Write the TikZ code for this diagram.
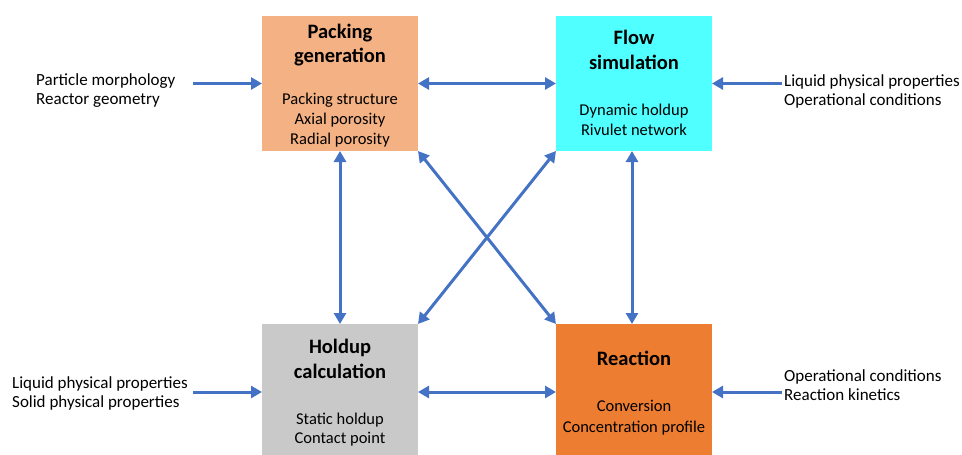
\documentclass[tikz,border=0pt]{standalone}
\usepackage{fontspec}
\setmainfont{Carlito}
\usetikzlibrary{arrows.meta}
\definecolor{packc}{HTML}{F4B183}
\definecolor{flowc}{HTML}{50FFFF}
\definecolor{holdc}{HTML}{C9C9C9}
\definecolor{reacc}{HTML}{ED7D31}
\definecolor{arrc}{HTML}{4472C4}
\begin{document}
\begin{tikzpicture}[x=1pt,y=-1pt,
  box/.style={rectangle, draw=none, minimum width=156pt, inner sep=0pt, outer sep=0pt},
  ttl/.style={font=\fontsize{20.5}{25}\selectfont\bfseries, anchor=base, inner sep=0pt},
  itm/.style={font=\fontsize{16.5}{20}\selectfont, anchor=base, inner sep=0pt},
  side/.style={font=\fontsize{17}{19}\selectfont, anchor=base west, inner sep=0pt, align=left},
  tip/.style={Triangle[length=11pt,width=12pt]},
  arr/.style={draw=arrc, line width=3pt, -{Triangle[length=11pt,width=12pt]}},
  darr/.style={draw=arrc, line width=3pt, {Triangle[length=11pt,width=12pt]}-{Triangle[length=11pt,width=12pt]}}]
\useasboundingbox (0,0) rectangle (962,455);
% boxes
\node[box, fill=packc, minimum height=135pt] (pack) at (340,83.5) {};
\node[box, fill=flowc, minimum height=135pt] (flow) at (634,83.5) {};
\node[box, fill=holdc, minimum height=136pt] (hold) at (340,392) {};
\node[box, fill=reacc, minimum height=136pt] (reac) at (634,392) {};
% box texts
\node[ttl] (packt1) at (340,38) {Packing};
\node[ttl] (packt2) at (340,62) {generation};
\node[itm] (packi1) at (340,104) {Packing structure};
\node[itm] (packi2) at (340,124) {Axial porosity};
\node[itm] (packi3) at (340,144) {Radial porosity};
\node[ttl] (flowt1) at (634,44) {Flow};
\node[ttl] (flowt2) at (634,69) {simulation};
\node[itm] (flowi1) at (634,115) {Dynamic holdup};
\node[itm] (flowi2) at (634,135) {Rivulet network};
\node[ttl] (holdt1) at (340,353) {Holdup};
\node[ttl] (holdt2) at (340,378) {calculation};
\node[itm] (holdi1) at (340,424) {Static holdup};
\node[itm] (holdi2) at (340,443) {Contact point};
\node[ttl] (react1) at (634,365) {Reaction};
\node[itm] (reaci1) at (634,411) {Conversion};
\node[itm] (reaci2) at (634,432) {Concentration profile};
% side labels (anchor is the baseline of the last line)
\node[side] (lt) at (36,104) {Particle morphology\\Reactor geometry};
\node[side] (rt) at (784,105) {Liquid physical properties\\Operational conditions};
\node[side] (lb) at (12,407) {Liquid physical properties\\Solid physical properties};
\node[side] (rb) at (784,400) {Operational conditions\\Reaction kinetics};
% free ends
\coordinate (ltin) at (193,83.5);
\coordinate (rtin) at (782,83.5);
\coordinate (lbin) at (193,392);
\coordinate (rbin) at (782,392);
% arrows
\draw[arr] (ltin) -- (pack.west);
\draw[arr] (rtin) -- (flow.east);
\draw[arr] (lbin) -- (hold.west);
\draw[arr] (rbin) -- (reac.east);
\draw[darr] (pack.east) -- (flow.west);
\draw[darr] (hold.east) -- (reac.west);
\draw[darr] (pack.south) -- (hold.north);
\draw[darr] ([xshift=-2pt]flow.south) -- ([xshift=-2pt]reac.north);
\draw[darr] (pack.south east) -- (reac.north west);
\draw[darr] (hold.north east) -- (flow.south west);
\end{tikzpicture}
\end{document}
